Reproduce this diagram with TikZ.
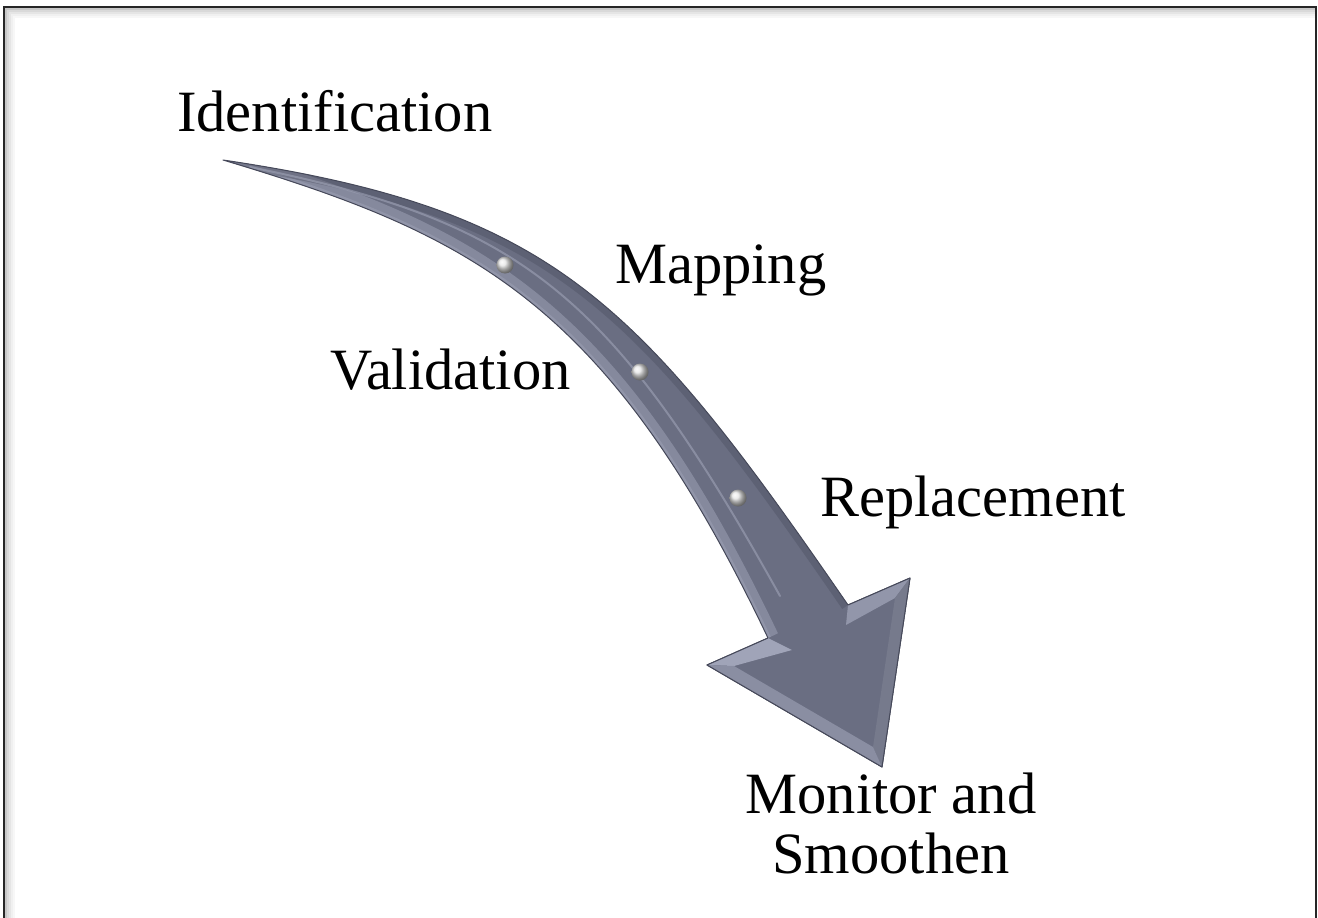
\documentclass[tikz,border=0pt]{standalone}
\usepackage{fontspec}
\setmainfont{Liberation Serif}
\definecolor{arrowbody}{RGB}{106,110,130}
\definecolor{arrowdark}{RGB}{70,73,90}
\definecolor{arrowlight}{RGB}{168,172,192}
\definecolor{bevelA}{RGB}{160,164,184}
\definecolor{bevelB}{RGB}{146,150,170}
\definecolor{bevelC}{RGB}{118,122,140}
\definecolor{bevelD}{RGB}{138,142,162}
\tikzset{
  txt/.style={font=\fontsize{58.5}{60}\selectfont, inner sep=0pt, text=black},
  rivet/.style={circle, minimum size=17pt, inner sep=0pt, shading=ball, ball color=white!80!gray},
}
% outline of the curved arrow
\def\arrowoutline{(tail) .. controls (553,209) and (638,300) .. (SR)
  -- (R) -- (T) -- (L) -- (SL)
  .. controls (608,302) and (473,235) .. (tail) -- cycle}
\begin{document}
\begin{tikzpicture}[x=1pt,y=-1pt]
\useasboundingbox (0,0) rectangle (1318,918);
\fill[white] (0,0) rectangle (1318,918);

% frame with a soft inner shadow along top and left
\begin{scope}
  \clip (0,0) rectangle (1318,918);
  \foreach \d/\o in {2/0.22,4/0.15,6/0.10,8/0.06,10/0.03}
    \draw[black, opacity=\o, line width=2] (4+\d,930) -- (4+\d,7+\d) -- (1316,7+\d);
  \draw[black!85, line width=1.6] (4,930) -- (4,7) -- (1316,7) -- (1316,930);
\end{scope}

% head corner points
\coordinate (tail) at (223,160);
\coordinate (SR) at (848,605);
\coordinate (R)  at (910,578);
\coordinate (T)  at (882,767);
\coordinate (L)  at (707,665);
\coordinate (SL) at (768,638);
% inner bevel points
\coordinate (Ri) at (895,598);
\coordinate (Ti) at (873,747);
\coordinate (Li) at (734,666);
\coordinate (SLi) at (792,650);
\coordinate (SRi) at (846,625);

% curved arrow body and head
\fill[arrowbody] \arrowoutline;

% bevel strips along both edges of the body
\begin{scope}
  \clip \arrowoutline;
  \draw[arrowlight, opacity=0.45, line width=22]
    (SL) .. controls (608,302) and (473,235) .. (tail);
  \draw[arrowlight, opacity=0.35, line width=6]
    (SL) .. controls (608,302) and (473,235) .. (tail);
  \draw[arrowdark, opacity=0.35, line width=14]
    (tail) .. controls (553,209) and (638,300) .. (SR);
  \draw[arrowlight, opacity=0.5, line width=2, line cap=round]
    (250,167) .. controls (520,222) and (610,290) .. (780,596);
\end{scope}
\draw[arrowdark, line width=1, line join=round] \arrowoutline;

% bevelled facets of the head
\fill[bevelA] (L) -- (SL) -- (SLi) -- (Li) -- cycle;
\fill[bevelB] (SR) -- (R) -- (Ri) -- (SRi) -- cycle;
\fill[bevelC] (R) -- (T) -- (Ti) -- (Ri) -- cycle;
\fill[bevelD] (T) -- (L) -- (Li) -- (Ti) -- cycle;
\draw[arrowdark, line width=1, line join=round] (SR) -- (R) -- (T) -- (L) -- (SL);

% rivets on the body
\node[rivet] (r1) at (505,265) {};
\node[rivet] (r2) at (640,372) {};
\node[rivet] (r3) at (738,498) {};

% step labels
\node[txt, anchor=base west] (ident) at (177,131) {Identification};
\node[txt, anchor=base west] (map) at (615,283) {Mapping};
\node[txt, anchor=base west] (val) at (330,389) {Validation};
\node[txt, anchor=base west] (rep) at (820,516) {Replacement};
\node[txt, align=center, anchor=base] (mon) at (891,873) {Monitor and\\Smoothen};
\end{tikzpicture}
\end{document}
